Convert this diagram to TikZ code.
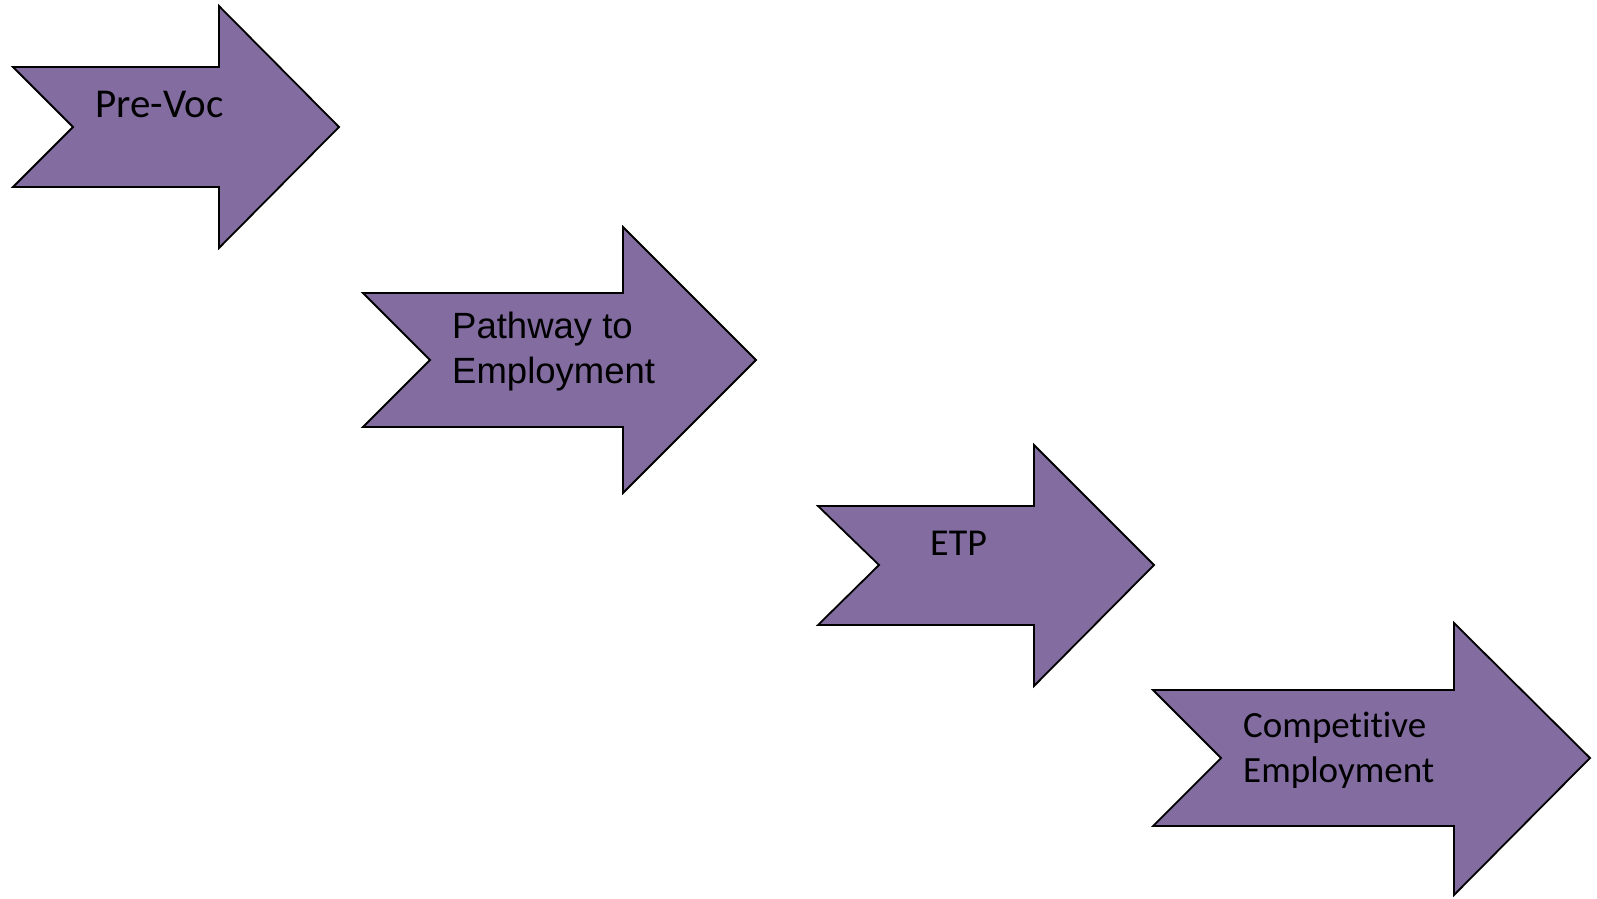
\documentclass[tikz,border=0pt]{standalone}
\usepackage{fontspec}
\setmainfont{Carlito}[Ligatures=NoCommon]
\newfontfamily\arialf{Liberation Sans}
\definecolor{arrowpurple}{RGB}{130,108,160}
\begin{document}
\begin{tikzpicture}[x=1pt,y=-1pt,
  arrowshape/.style={fill=arrowpurple,draw=black,line width=1.8pt,line join=miter},
  lbl/.style={inner sep=0pt,anchor=base west,align=left,text=black}]
\useasboundingbox (0,0) rectangle (1597,898);
% Arrow 1
\draw[arrowshape] (13,67) -- (219,67) -- (219,6) -- (339,127) -- (219,248) -- (219,187) -- (13,187) -- (73,127) -- cycle;
% Arrow 2
\draw[arrowshape] (363,293) -- (623,293) -- (623,227) -- (756,360) -- (623,493) -- (623,427) -- (363,427) -- (430,360) -- cycle;
% Arrow 3
\draw[arrowshape] (818,506) -- (1034,506) -- (1034,445) -- (1154,565) -- (1034,686) -- (1034,625) -- (818,625) -- (879,565) -- cycle;
% Arrow 4
\draw[arrowshape] (1153,690) -- (1454,690) -- (1454,623) -- (1590,758) -- (1454,895) -- (1454,826) -- (1153,826) -- (1221,758) -- cycle;
% Labels (multi-line nodes: base anchor is the last line's baseline)
\node[lbl,font={\fontsize{41}{48}\selectfont}] (prevoc) at (95,117) {Pre-Voc};
\node[lbl,font={\arialf\fontsize{36.5}{45}\selectfont}] (pathway) at (452,383) {Pathway to\\Employment};
\node[lbl,font={\fontsize{38}{45}\selectfont}] (etp) at (930,555) {ETP};
\node[lbl,font={\fontsize{37}{45}\selectfont}] (comp) at (1243,782) {Competitive\\Employment};
\end{tikzpicture}
\end{document}
